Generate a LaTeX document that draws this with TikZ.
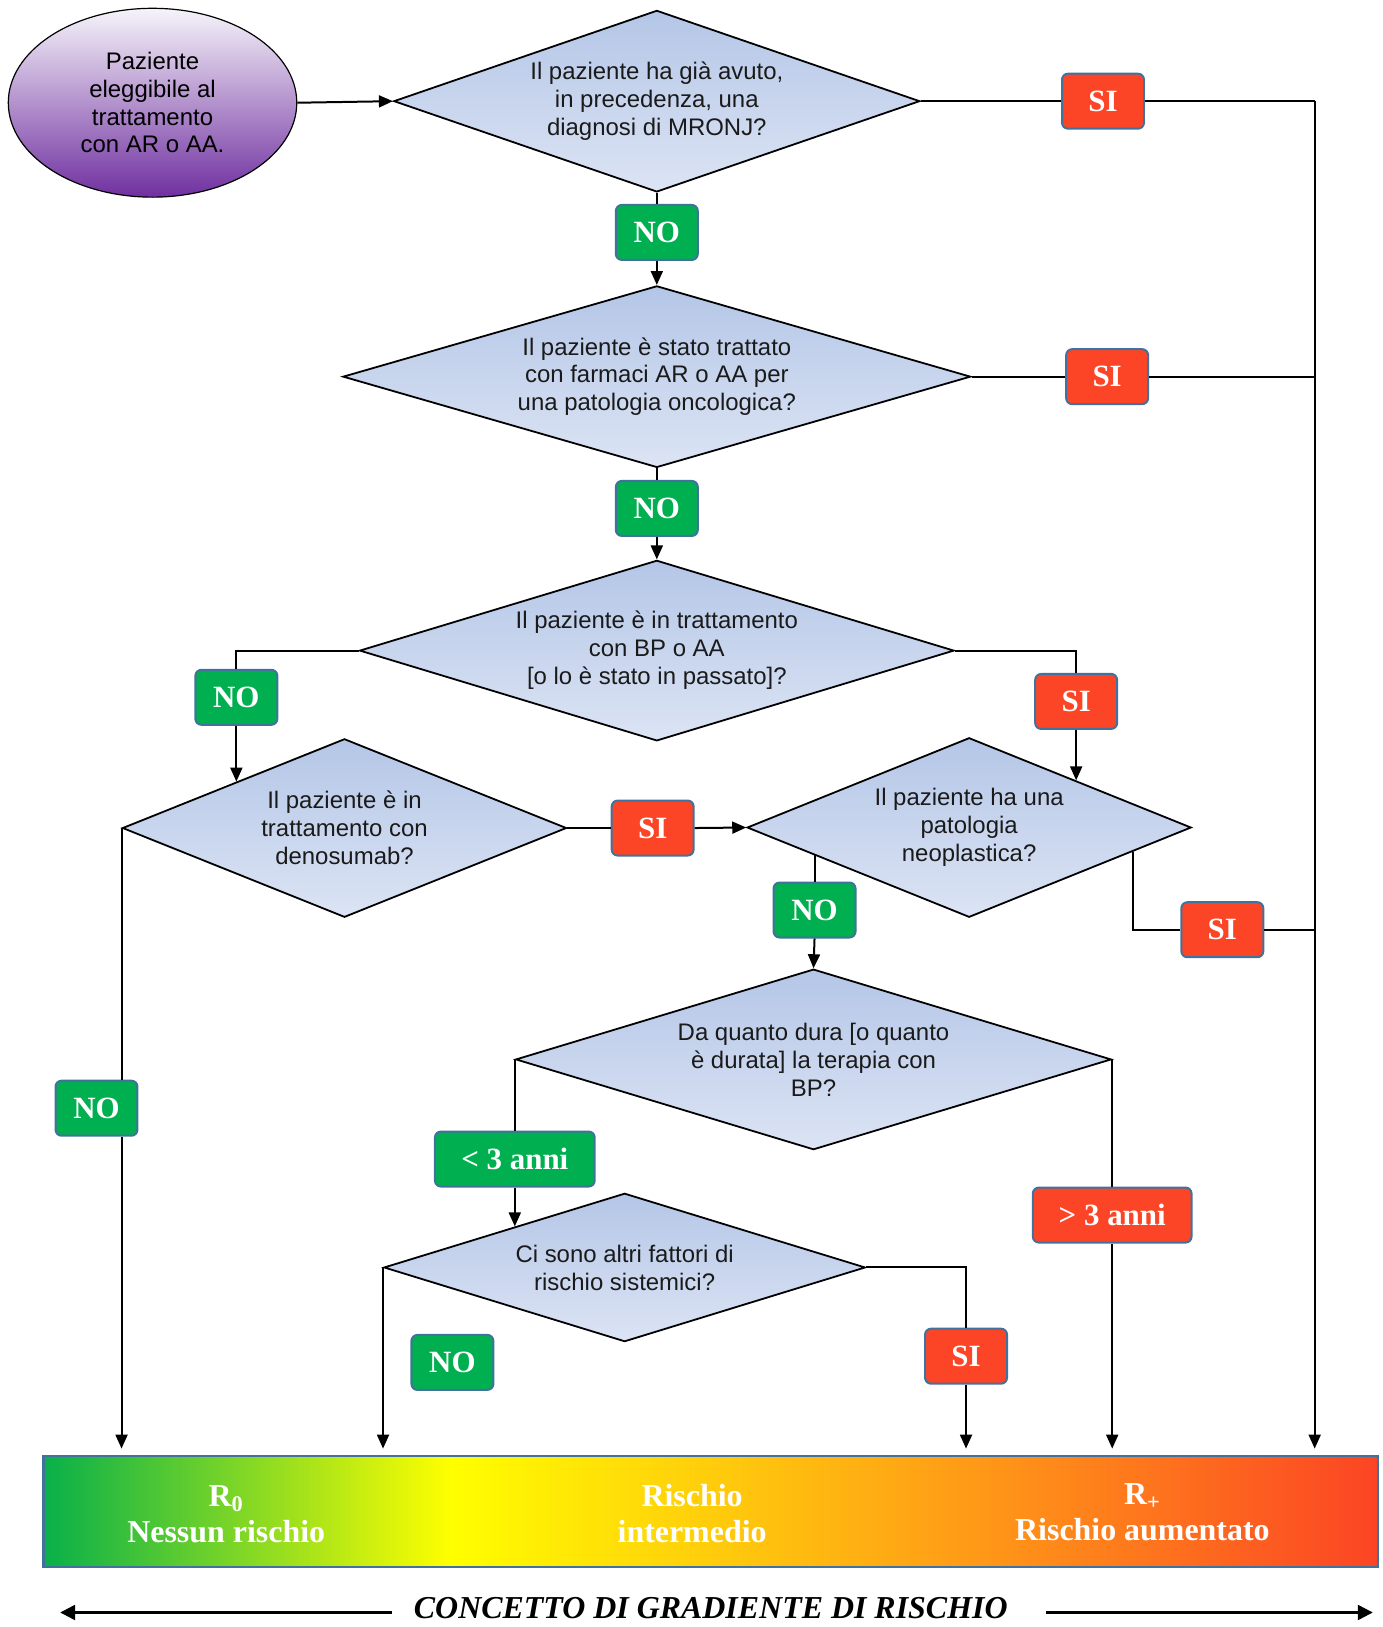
\documentclass[tikz,border=0pt]{standalone}
\usepackage{fontspec}
\setmainfont{Liberation Serif}
\setsansfont{Liberation Sans}
\usetikzlibrary{shapes.geometric,calc,arrows.meta}

\definecolor{boxgreen}{HTML}{00B050}
\definecolor{boxred}{HTML}{FC4526}
\definecolor{boxedge}{HTML}{41719C}
\definecolor{diamtop}{HTML}{B4C6E7}
\definecolor{diambot}{HTML}{DCE4F4}
\definecolor{ovaltop}{HTML}{F6F4FA}
\definecolor{ovalbot}{HTML}{7030A0}
\definecolor{riskgreen}{HTML}{08B04A}
\definecolor{riskorange}{HTML}{FF9418}
\definecolor{riskred}{HTML}{FC4424}
\definecolor{txtgray}{HTML}{1A1A1A}

\pgfdeclarehorizontalshading{riskbar}{100bp}{color(0bp)=(riskgreen); color(25bp)=(riskgreen); color(40.25bp)=(yellow); color(60.85bp)=(riskorange); color(75bp)=(riskred); color(100bp)=(riskred)}

\newcommand{\dimpx}{0.52pt}

\begin{document}
\begin{tikzpicture}[x=0.52pt,y=-0.52pt,>={Triangle[length=7pt,width=6pt]}]
    \tikzstyle{edge}  = [line width=1pt,draw=black]
    \tikzstyle{dedge} = [line width=1pt,->,draw=black]
    \tikzstyle{question}=[
      diamond,
      draw=black,
      line width=0.9pt,
      inner sep=0pt,
      top color=diamtop,
      bottom color=diambot,
      align=center,
      text=txtgray,
      font=\sffamily\fontsize{12}{14}\selectfont,
    ]
    \tikzstyle{answer}=[
      rectangle,
      rounded corners=3pt,
      draw=boxedge,
      line width=1pt,
      text=white,
      font=\bfseries\fontsize{15.5}{18}\selectfont,
      minimum width=79*\dimpx,
      minimum height=53*\dimpx,
      inner sep=0pt,
    ]
    \tikzstyle{sibox}=[answer,fill=boxred]
    \tikzstyle{nobox}=[answer,fill=boxgreen]
    \tikzstyle{risklabel}=[text=white,align=center,font=\bfseries\fontsize{16}{18}\selectfont]

    \useasboundingbox (0,0) rectangle (1332,1568);

    % start and questions
    \node[ellipse,draw=black,line width=0.6pt,top color=ovaltop,bottom color=ovalbot,
          minimum width=278*\dimpx,minimum height=182*\dimpx,inner sep=0pt,align=center,
          font=\sffamily\fontsize{12}{13.9}\selectfont] (start) at (147,99)
          {Paziente\\eleggibile al\\trattamento\\con AR o AA.};
    \node[question,aspect=2.9,minimum width=507*\dimpx,minimum height=175*\dimpx] (q1) at (633,97.5)
          {Il paziente ha già avuto,\\in precedenza, una\\diagnosi di MRONJ?};
    \node[question,aspect=3.46,minimum width=605*\dimpx,minimum height=175*\dimpx] (q2) at (633,363)
          {Il paziente è stato trattato\\con farmaci AR o AA per\\una patologia oncologica?};
    \node[question,aspect=3.29,minimum width=573*\dimpx,minimum height=174*\dimpx] (q3) at (633,627)
          {Il paziente è in trattamento\\con BP o AA\\{[o lo è stato in passato]?}};
    \node[question,aspect=2.49,minimum width=428*\dimpx,minimum height=172*\dimpx] (q4) at (332,798)
          {Il paziente è in\\trattamento con\\denosumab?};
    \node[question,aspect=2.47,minimum width=428*\dimpx,minimum height=173*\dimpx] (q5) at (934,797.5)
          {Il paziente ha una\\patologia\\neoplastica?};
    \node[question,aspect=3.3,minimum width=574*\dimpx,minimum height=174*\dimpx] (q6) at (784,1021)
          {Da quanto dura [o quanto\\è durata] la terapia con\\BP?};
    \node[question,aspect=3.24,minimum width=464*\dimpx,minimum height=143*\dimpx] (q7) at (602,1221.5)
          {Ci sono altri fattori di\\rischio sistemici?};

    % risk scale
    \node[rectangle,draw=boxedge,line width=1.2pt,shading=riskbar,
          minimum width=1286*\dimpx,minimum height=107*\dimpx] (bar) at (685,1456.5) {};
    \node[risklabel] (r0) at (218,1459) {R\textsubscript{0}\\Nessun rischio};
    \node[risklabel] (rmid) at (667,1459) {Rischio\\intermedio};
    \node[risklabel] (rplus) at (1101,1457) {R\textsubscript{+}\\Rischio aumentato};

    \coordinate (q5ne) at ($(q5.north)!0.48!(q5.east)$);
    \coordinate (q4nw) at ($(q4.west)!0.515!(q4.north)$);

    % answers
    \node[sibox] (si1) at (1063,97.5) {SI};
    \node[nobox] (no1) at (633,224) {NO};
    \node[sibox] (si2) at (1067,363) {SI};
    \node[nobox] (no2) at (633,490) {NO};
    \node[nobox] (no3) at (q4nw |- 0,672) {NO};
    \node[sibox] (si3) at (q5ne |- 0,676) {SI};
    \node[sibox] (si4) at (629,798) {SI};
    \node[nobox] (no4) at (93,1068) {NO};
    \node[nobox] (no5) at (785,877) {NO};
    \node[sibox] (si5) at (1178,896) {SI};
    \node[nobox,minimum width=154*\dimpx] (lt3) at (q6.west |- 0,1117) {< 3 anni};
    \node[sibox,minimum width=153*\dimpx] (gt3) at (q6.east |- 0,1171) {> 3 anni};
    \node[nobox] (no7) at (436,1313) {NO};
    \node[sibox] (si7) at (931,1307) {SI};

    \coordinate (rtop) at (1267,97.5);
    \coordinate (q5l) at ($(q5.west)!0.304!(q5.south)$);
    \coordinate (q5r) at ($(q5.east)!0.265!(q5.south)$);
    \coordinate (q7l) at ($(q7.west)!0.547!(q7.north)$);

    % connectors
    \draw[dedge] (start.east) -- (q1.west);
    \draw[edge] (q1.east) -- (si1.west);
    \draw[edge] (si1.east) -- (rtop);
    \draw[dedge,shorten >=3pt] (rtop) -- (rtop |- bar.north);
    \draw[edge] (q1.south) -- (no1.north);
    \draw[dedge] (no1.south) -- (q2.north);

    \draw[edge] (q2.east) -- (si2.west);
    \draw[edge] (si2.east) -- (si2.east -| rtop);
    \draw[edge] (q2.south) -- (no2.north);
    \draw[dedge] (no2.south) -- (q3.north);

    \draw[edge] (q3.west) -| (no3.north);
    \draw[dedge] (no3.south) -- (q4nw);
    \draw[edge] (q3.east) -| (si3.north);
    \draw[dedge] (si3.south) -- (q5ne);

    \draw[edge] (q4.east) -- (si4.west);
    \draw[dedge] (si4.east) -- (q5.west);
    \draw[edge] (q4.west) -- (q4.west |- no4.north);
    \draw[dedge,shorten >=3pt] (q4.west |- no4.south) -- (q4.west |- bar.north);

    \draw[edge] (no5.north |- q5l) -- (no5.north);
    \draw[dedge] (no5.south) -- (q6.north);
    \draw[edge] (q5r) |- (si5.west);
    \draw[edge] (si5.east) -- (si5.east -| rtop);

    \draw[edge] (q6.west) -- (lt3.north);
    \draw[dedge] (lt3.south) -- (lt3.south |- q7l);
    \draw[edge] (q6.east) -- (gt3.north);
    \draw[dedge,shorten >=3pt] (gt3.south) -- (gt3.south |- bar.north);

    \draw[dedge,shorten >=3pt] (q7.west) -- (q7.west |- bar.north);
    \draw[edge] (q7.east) -| (si7.north);
    \draw[dedge,shorten >=3pt] (si7.south) -- (si7.south |- bar.north);

    % gradient caption
    \node[font=\bfseries\itshape\fontsize{16}{18}\selectfont,text height=10.6pt,text depth=0pt,
          inner xsep=11pt,inner ysep=0pt] (concept) at (685,1550) {CONCETTO DI GRADIENTE DI RISCHIO};
    \coordinate (gleft) at (58,1554);
    \coordinate (gright) at (1323,1554);
    \draw[line width=1.2pt,-{Triangle[length=7.5pt,width=7.5pt]}] (concept.west |- gleft) -- (gleft);
    \draw[line width=1.2pt,-{Triangle[length=7.5pt,width=7.5pt]}] ([xshift=8pt]concept.east |- gright) -- (gright);
\end{tikzpicture}
\end{document}
